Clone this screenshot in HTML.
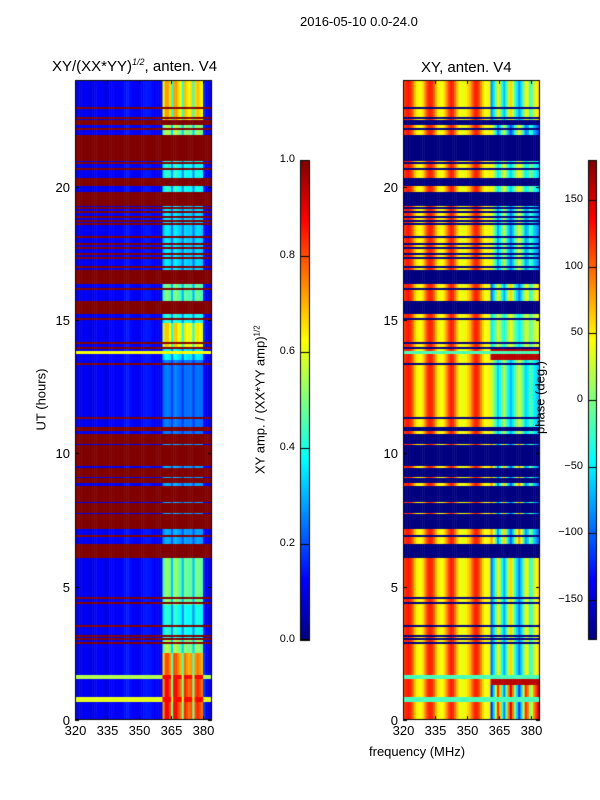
<!DOCTYPE html>
<html><head><meta charset="utf-8">
<style>
body{margin:0;background:#fff;font-family:"Liberation Sans",sans-serif;}
#root{position:relative;width:600px;height:800px;overflow:hidden;background:#fff;}
canvas{position:absolute;}
.t{position:absolute;font-size:13px;color:#000;white-space:nowrap;}
</style></head><body>
<div id="root">
<canvas id="c" width="600" height="800" style="left:0;top:0"></canvas>
<div class="t" style="left:300px;top:14px">2016-05-10 0.0-24.0</div>
<div class="t" style="left:52px;top:57px;font-size:15px">XY/(XX*YY)<sup style="font-size:9px;font-style:italic">1/2</sup>, anten. V4</div>
<div class="t" style="left:421px;top:59px;font-size:15px">XY, anten. V4</div>
<div class="t" style="left:5px;top:392px;transform:rotate(-90deg);transform-origin:center;width:72px;text-align:center">UT (hours)</div>
<div class="t" style="left:180px;top:392px;width:160px;text-align:center;transform:rotate(-90deg)">XY amp. / (XX*YY amp)<sup style="font-size:8px">1/2</sup></div>
<div class="t" style="left:500px;top:390px;width:80px;text-align:center;transform:rotate(-90deg)">phase (deg.)</div>
<div class="t" style="left:369px;top:744px">frequency (MHz)</div>
<div id="labels"></div>
</div>
<script>
// ---- data ----
const freqBins = Array.from({length:64},(_,i)=>320+i); // MHz bin starts
const flaggedThick = [[22.31,22.5],[20.96,21.94],[20.02,20.33],[19.27,19.8],[16.35,16.87],[15.22,15.71],[10.35,10.73],[9.52,10.31],[9.11,9.45],[8.89,9.07],[8.17,8.77],[7.76,8.14],[7.24,7.72],[6.07,6.6]];
const flaggedThin = [22.95,22.57,22.16,20.89,20.66,19.2,19.05,18.86,18.71,18.6,18.11,17.85,17.7,17.47,17.32,16.99,16.16,15.04,14.14,13.95,13.35,11.33,10.95,10.88,7.2,6.9,4.57,4.39,3.52,3.15,3.04,2.89];
const ampSegStart = [22.5,21.94,19.8,16.87,15.71,14.9,13.97,13.5,10.73,6.6,4.3,3.0,2.5,1.7,0];
const ampSegLevel = [0.72,0.55,0.42,0.36,0.5,0.42,0.68,0.38,0.25,0.3,0.52,0.42,0.55,0.8,0.88];
const fullBands = [[13.72,13.82,0.62],[1.55,1.7,0.55],[0.68,0.85,0.6]];
const ampColGain = [0,0,0,0,0,0,0,0,0,0,0,0,0,0,0,0,0,0,0,0,0,0,0,0,0,0,0,0,0,0,0,0,0,0,0,0,0,0,0,0,0,0.8,1,1,0.9,0.5,1,1,0.9,0.85,0.5,0.95,0.9,0.85,0.9,0.5,0.9,0.95,0.9,0.85,0.1,0,0,0];
const ampColBase = [0.09,0.09,0.1,0.11,0.11,0.12,0.11,0.1,0.1,0.11,0.12,0.12,0.12,0.11,0.1,0.11,0.12,0.12,0.12,0.12,0.11,0.12,0.13,0.14,0.15,0.14,0.13,0.12,0.11,0.11,0.12,0.13,0.14,0.15,0.15,0.14,0.13,0.12,0.12,0.11,0.11,0.11,0.11,0.11,0.11,0.11,0.11,0.11,0.11,0.11,0.11,0.11,0.11,0.11,0.11,0.11,0.11,0.11,0.11,0.11,0.11,0.1,0.1,0.1];
const phaseColBase = [110,125,130,120,100,70,50,40,45,60,90,115,125,120,100,70,50,40,45,60,85,110,125,120,95,65,45,35,40,50,60,75,100,120,125,110,85,60,45,40,50];
const phaseSegStart = [22.5,20.96,19.27,16.87,15.22,13.97,13.5,10.73,6.6,1.7,1.3,0];
const phaseSegHi = [-100,60,60,50,-110,-60,160,40,100,-110,160,-150];
const phaseSegHi2 = [60,-110,-60,-90,60,40,160,-70,-100,60,160,150];
const phaseHiColMix = [0.1,0.3,0.6,0.9,0.7,0.4,0.2,0.5,0.8,1,0.8,0.5,0.3,0.1,0.3,0.6,0.9,0.8,0.5,0.6,0.8,0.9,1];
const ampTicks=[0,0.2,0.4,0.6,0.8,1.0];
const phaseTicks=[-150,-100,-50,0,50,100,150];
const utTicks=[0,5,10,15,20];
const freqTicks=[320,335,350,365,380];

// ---- axes ----
const T=80,B=720,L1=75,R1=212,L2=403,R2=540;
const F0=320,F1=384.2;
const yUT=u=>B-(u/24)*(B-T);
const xF=(f,L,R)=>L+(f-F0)/(F1-F0)*(R-L);
function jet(v){v=Math.max(0,Math.min(1,v));
 const c=x=>Math.round(255*Math.max(0,Math.min(1,x)));
 return `rgb(${c(1.5-Math.abs(4*v-3))},${c(1.5-Math.abs(4*v-2))},${c(1.5-Math.abs(4*v-1))})`;}
function segIdx(starts,u){for(let i=0;i<starts.length;i++) if(u>=starts[i]) return i;return starts.length-1;}
function isThick(u){return flaggedThick.some(s=>u>=s[0]&&u<=s[1]);}
function isThin(u){return flaggedThin.some(t=>Math.abs(u-t)<0.045);}
function fullBand(u){for(const b of fullBands) if(u>=b[0]&&u<=b[1]) return b[2];return null;}

const ctx=document.getElementById('c').getContext('2d');
for(let y=T;y<B;y++){
 const u=(B-y-0.5)/(B-T)*24;
 const thick=isThick(u),thin=isThin(u),fb=fullBand(u);
 const si=segIdx(ampSegStart,u), pi=segIdx(phaseSegStart,u);
 for(let j=0;j<freqBins.length;j++){
  const f=freqBins[j];
  let v;
  if(thick||thin) v=1.0;
  else if(fb!==null) v=ampColGain[j]>0.5?Math.max(fb,ampSegLevel[si]):fb;
  else { const b=ampColBase[j]; v=b+ampColGain[j]*(ampSegLevel[si]-b); }
  ctx.fillStyle=jet(v);
  const xa=xF(f,L1,R1), xb=xF(f+1,L1,R1);
  ctx.fillRect(xa,y,Math.min(xb,R1)-xa+0.5,1);
  let p;
  if(thick||thin) p=-180;
  else if(j<phaseColBase.length) p=phaseColBase[j];
  else { const m=phaseHiColMix[j-phaseColBase.length]; p=phaseSegHi[pi]*(1-m)+phaseSegHi2[pi]*m; }
  if(!(thick||thin)&&fb!==null) p=-20;
  ctx.fillStyle=jet((p+180)/360);
  const xc=xF(f,L2,R2), xd=xF(f+1,L2,R2);
  ctx.fillRect(xc,y,Math.min(xd,R2)-xc+0.5,1);
 }
}
const CT=160,CB=640;
for(let y=CT;y<CB;y++){const v=(CB-y-0.5)/(CB-CT);
 ctx.fillStyle=jet(v);ctx.fillRect(300,y,10,1);ctx.fillRect(588,y,9,1);}
ctx.strokeStyle='#000';ctx.lineWidth=1;
[[L1,R1],[L2,R2]].forEach(([L,R])=>ctx.strokeRect(L+0.5,T+0.5,R-L-1,B-T-1));
ctx.strokeRect(300.5,CT+0.5,9,CB-CT-1);ctx.strokeRect(588.5,CT+0.5,8,CB-CT-1);
const lab=document.getElementById('labels');
function addLabel(txt,x,y,align,name){const d=document.createElement('div');d.className='t';
 d.textContent=txt;d.style.top=(y-8)+'px';
 if(align==='r'){d.style.right=(600-x)+'px';}else if(align==='c'){d.style.left=(x-20)+'px';d.style.width='40px';d.style.textAlign='center';}else d.style.left=x+'px';
 if(name.startsWith('cb'))d.style.fontSize='11px';
 
 
 lab.appendChild(d);}
ctx.beginPath();
utTicks.forEach(t=>{const y=Math.round(yUT(t))+0.5;
 [[L1,R1],[L2,R2]].forEach(([L,R])=>{ctx.moveTo(L,y);ctx.lineTo(L+4,y);ctx.moveTo(R,y);ctx.lineTo(R-4,y);});
 addLabel(String(t),70,y,'r','y-tick-left');addLabel(String(t),398,y,'r','y-tick-right');});
freqTicks.forEach(f=>{[[L1,R1,'x-tick-left'],[L2,R2,'x-tick-right']].forEach(([L,R,n])=>{const x=Math.round(xF(f,L,R))+0.5;
 ctx.moveTo(x,B);ctx.lineTo(x,B-4);ctx.moveTo(x,T);ctx.lineTo(x,T+4);addLabel(String(f),x,731,'c',n);});});
ampTicks.forEach(t=>{const y=Math.round(CB-t*(CB-CT))+0.5;ctx.moveTo(300,y);ctx.lineTo(310,y);
 addLabel(t.toFixed(1),295,y,'r','cb-amp-tick');});
phaseTicks.forEach(t=>{const y=Math.round(CB-(t+180)/360*(CB-CT))+0.5;ctx.moveTo(588,y);ctx.lineTo(597,y);
 addLabel(t<0?'\u2212'+(-t):String(t),583,y,'r','cb-phase-tick');});
ctx.stroke();
</script>
</body></html>
